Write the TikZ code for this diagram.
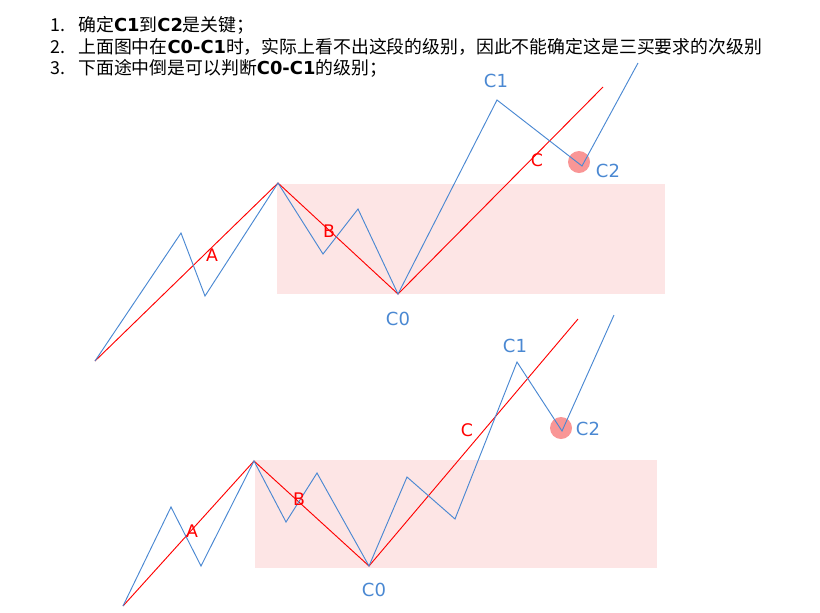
\documentclass[tikz,border=0pt]{standalone}
\usepackage{fontspec}
\newfontfamily\cjk{Noto Sans CJK SC}
\newfontfamily\lab{DejaVu Sans}
\definecolor{waveblue}{RGB}{74,136,210}
\definecolor{zonepink}{RGB}{253,229,229}
\definecolor{hitred}{RGB}{249,150,150}
\begin{document}
\begin{tikzpicture}[x=0.75pt,y=-0.75pt,
  wave/.style={draw=waveblue, line width=0.7pt},
  trend/.style={draw=red, line width=0.7pt},
  zone/.style={fill=zonepink},
  hit/.style={fill=hitred, circle, minimum size=16.5pt, inner sep=0pt},
  ptlab/.style={text=waveblue, font=\lab\fontsize{13.5}{16}\selectfont},
  seglab/.style={text=red, font=\lab\fontsize{13}{15}\selectfont},
  note/.style={anchor=west, inner sep=0pt, font=\cjk\fontsize{13.4}{16}\selectfont}
]
\useasboundingbox (0,0) rectangle (820,612);

% notes
\node[note] (n1) at (50,25) {1.};
\node[note] (l1) at (78,25) {确定{\lab\bfseries C1}到{\lab\bfseries C2}是关键；};
\node[note] (n2) at (50,47) {2.};
\node[note] (l2) at (78,47) {上面图中在{\lab\bfseries C0-C1}时，实际上看不出这段的级别，因此不能确定这是三买要求的次级别};
\node[note] (n3) at (50,68) {3.};
\node[note] (l3) at (78,68) {下面途中倒是可以判断{\lab\bfseries C0-C1}的级别；};

% upper chart
\fill[zone] (277,184) rectangle (665,294);
\node[hit] (h1) at (579,162) {};
\coordinate (t0) at (95,361);
\coordinate (t1) at (181,233);
\coordinate (t2) at (205,296);
\coordinate (t3) at (278,183);
\coordinate (t4) at (323,254);
\coordinate (t5) at (358,209);
\coordinate (t6) at (398,294);
\coordinate (t7) at (497,100);
\coordinate (t8) at (582,166);
\coordinate (t9) at (638,63);
\coordinate (tr) at (603,87);
\draw[trend] (t0) -- (t3) -- (t6) -- (tr);
\draw[wave] (t0) -- (t1) -- (t2) -- (t3) -- (t4) -- (t5) -- (t6) -- (t7) -- (t8) -- (t9);
\node[ptlab] (c1a) at (496,81) {C1};
\node[ptlab] (c2a) at (608,171) {C2};
\node[ptlab] (c0a) at (398,319) {C0};
\node[seglab] (aa) at (212,255) {A};
\node[seglab] (ba) at (329,231) {B};
\node[seglab] (ca) at (537,160) {C};

% lower chart
\fill[zone] (255,460) rectangle (657,568);
\node[hit] (h2) at (561,428) {};
\coordinate (b0) at (123,606);
\coordinate (b1) at (171,507);
\coordinate (b2) at (201,566);
\coordinate (b3) at (254,461);
\coordinate (b4) at (286,522);
\coordinate (b5) at (317,473);
\coordinate (b6) at (369,566);
\coordinate (b7) at (407,477);
\coordinate (b8) at (455,519);
\coordinate (b9) at (517,362);
\coordinate (b10) at (562,431);
\coordinate (b11) at (614,315);
\coordinate (br) at (578,319);
\draw[trend] (b0) -- (b3) -- (b6) -- (br);
\draw[wave] (b0) -- (b1) -- (b2) -- (b3) -- (b4) -- (b5) -- (b6) -- (b7) -- (b8) -- (b9) -- (b10) -- (b11);
\node[ptlab] (c1b) at (515,346) {C1};
\node[ptlab] (c2b) at (588,429) {C2};
\node[ptlab] (c0b) at (374,590) {C0};
\node[seglab] (ab) at (192,531) {A};
\node[seglab] (bb) at (299,499) {B};
\node[seglab] (cb) at (467,430) {C};
\end{tikzpicture}
\end{document}
